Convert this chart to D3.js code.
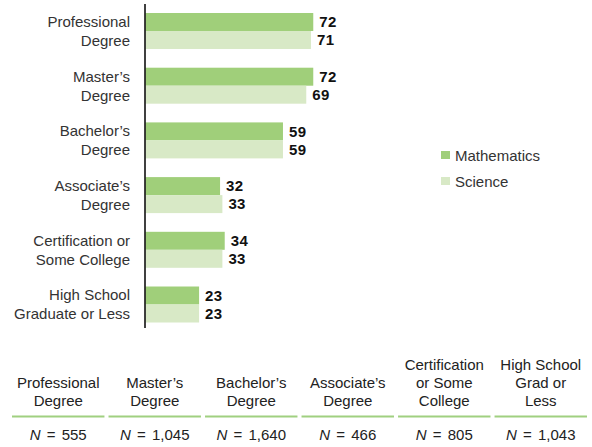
<!DOCTYPE html>
<html>
<head>
<meta charset="utf-8">
<script src="https://cdn.jsdelivr.net/npm/d3@7"></script>
<style>
  body { margin: 0; background: #fff; }
  text { font-family: "Liberation Sans", Arial, sans-serif; fill: #222; }
</style>
</head>
<body>
<script>
// Chart data
const categories = ["Professional Degree", "Master's Degree", "Bachelor's Degree",
                    "Associate's Degree", "Certification or Some College", "High School Graduate or Less"];
const categoryLines = [["Professional", "Degree"], ["Master\u2019s", "Degree"], ["Bachelor\u2019s", "Degree"],
                       ["Associate\u2019s", "Degree"], ["Certification or", "Some College"], ["High School", "Graduate or Less"]];
const series = ["Mathematics", "Science"];
const mathValues = [72, 72, 59, 32, 34, 23];
const scienceValues = [71, 69, 59, 33, 33, 23];

// Table below the chart
const tableHeaders = [["Professional", "Degree"], ["Master\u2019s", "Degree"], ["Bachelor\u2019s", "Degree"],
                      ["Associate\u2019s", "Degree"], ["Certification", "or Some", "College"], ["High School", "Grad or", "Less"]];
const sampleSizes = ["555", "1,045", "1,640", "466", "805", "1,043"];

const width = 592, height = 447;
const colors = { Mathematics: "#a0cf7a", Science: "#d8e9c6" };

const svg = d3.select("body").append("svg")
    .attr("width", width)
    .attr("height", height);

// Scales
const y0 = d3.scaleBand()
    .domain(categories)
    .range([13, 322.5])
    .paddingInner(0.342);

const y1 = d3.scaleBand()
    .domain(series)
    .range([0, y0.bandwidth()]);

const x = d3.scaleLinear()
    .domain([0, 100])
    .range([145.5, 378.5]);

// Bars
const groups = svg.selectAll(".group")
    .data(categories)
    .enter().append("g")
    .attr("class", "group")
    .attr("transform", d => `translate(0,${y0(d)})`);

groups.each(function(cat, i) {
    const g = d3.select(this);
    const vals = [
        { s: "Mathematics", v: mathValues[i] },
        { s: "Science", v: scienceValues[i] }
    ];
    g.selectAll("rect")
        .data(vals)
        .enter().append("rect")
        .attr("x", x(0))
        .attr("y", d => y1(d.s))
        .attr("width", d => x(d.v) - x(0))
        .attr("height", y1.bandwidth())
        .attr("fill", d => colors[d.s]);

    g.selectAll(".val")
        .data(vals)
        .enter().append("text")
        .attr("class", "val")
        .attr("x", d => x(d.v) + 6)
        .attr("y", d => y1(d.s) + y1.bandwidth() / 2)
        .attr("dy", "0.36em")
        .style("font-size", "15px")
        .style("font-weight", "bold")
        .style("letter-spacing", "0.4px")
        .style("fill", "#111")
        .text(d => d.v);

    // category label, two lines
    const c = y0.bandwidth() / 2;
    g.selectAll(".cat")
        .data(categoryLines[i])
        .enter().append("text")
        .attr("class", "cat")
        .attr("x", 130)
        .attr("y", (d, j) => c + (j === 0 ? -9.5 : 9.5))
        .attr("dy", "0.36em")
        .attr("text-anchor", "end")
        .style("font-size", "15px")
        .style("fill", "#333")
        .text(d => d);
});

// Axis line
svg.append("line")
    .attr("x1", x(0) - 0.5).attr("x2", x(0) - 0.5)
    .attr("y1", 4).attr("y2", 328)
    .attr("stroke", "#000")
    .attr("stroke-width", 1.5);

// Legend
const legend = svg.append("g").attr("transform", "translate(441,151)");
series.forEach((s, i) => {
    legend.append("rect")
        .attr("x", 0)
        .attr("y", i * 26)
        .attr("width", 9)
        .attr("height", 8)
        .attr("fill", colors[s]);
    legend.append("text")
        .attr("x", 14)
        .attr("y", i * 26 + 4.5)
        .attr("dy", "0.36em")
        .style("font-size", "15px")
        .style("fill", "#333")
        .text(s);
});

// Table
const colX = d3.scaleBand()
    .domain(d3.range(tableHeaders.length))
    .range([12, 587])
    .paddingInner(0.042);

const cols = svg.selectAll(".col")
    .data(tableHeaders)
    .enter().append("g")
    .attr("class", "col")
    .attr("transform", (d, i) => `translate(${colX(i)},0)`);

cols.each(function(lines, i) {
    const g = d3.select(this);
    const cx = colX.bandwidth() / 2;
    const n = lines.length;
    g.selectAll(".hdr")
        .data(lines)
        .enter().append("text")
        .attr("class", "hdr")
        .attr("x", cx)
        .attr("y", (d, j) => 406 - (n - 1 - j) * 18)
        .attr("text-anchor", "middle")
        .style("font-size", "15px")
        .text(d => d);

    g.append("line")
        .attr("x1", 0).attr("x2", colX.bandwidth())
        .attr("y1", 416.5).attr("y2", 416.5)
        .attr("stroke", "#a0d080")
        .attr("stroke-width", 2);

    const t = g.append("text")
        .attr("x", cx)
        .attr("y", 440)
        .attr("text-anchor", "middle")
        .style("font-size", "15px")
        .style("word-spacing", "2px");
    t.append("tspan").style("font-style", "italic").text("N");
    t.append("tspan").text(" = " + sampleSizes[i]);
});
</script>
</body>
</html>
